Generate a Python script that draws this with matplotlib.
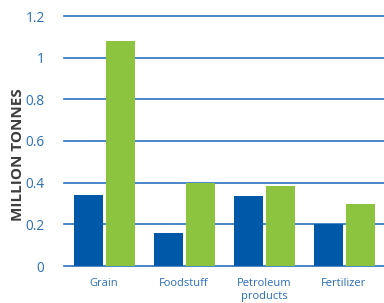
import numpy as np
import matplotlib.pyplot as plt

# Data
categories = ['Grain', 'Foodstuff', 'Petroleum\nproducts', 'Fertilizer']
series_blue = [0.34, 0.16, 0.337, 0.20]
series_green = [1.08, 0.40, 0.385, 0.30]
yticks = [0, 0.2, 0.4, 0.6, 0.8, 1.0, 1.2]
ytick_labels = ['0', '0.2', '0.4', '0.6', '0.8', '1', '1.2']

blue = '#0059a8'
green = '#8cc43f'
grid_blue = '#2a72bf'
text_blue = '#2a6fb8'

plt.rcParams['font.family'] = ['Open Sans', 'DejaVu Sans']

fig = plt.figure(figsize=(3.84, 3.03), dpi=100)
ax = fig.add_axes([64 / 384, 1 - 266 / 303, 1 - 64 / 384, 250 / 303])

x = np.arange(len(categories))
w = 29 / 80
gap = 3 / 80
ax.bar(x - (w + gap) / 2, series_blue, width=w, color=blue, zorder=3)
ax.bar(x + (w + gap) / 2, series_green, width=w, color=green, zorder=3)

ax.set_xlim(-0.5, len(categories) - 0.5)
ax.set_ylim(0, 1.2)
ax.set_yticks(yticks)
ax.set_yticklabels(ytick_labels)
for t in yticks:
    ax.axhline(t, color=grid_blue, lw=1.2, zorder=1, clip_on=False)

ax.set_xticks(x)
ax.set_xticklabels(categories, linespacing=1.25)
ax.tick_params(axis='x', length=0, pad=9, labelsize=8, labelcolor=text_blue)
ax.tick_params(axis='y', length=0, pad=14, labelsize=9.8, labelcolor=text_blue)
for s in ax.spines.values():
    s.set_visible(False)

fig.text(18 / 384, 1 - 155 / 303, 'MILLION TONNES', rotation=90, ha='center', va='center',
         fontsize=11, fontweight='bold', color='#3d3d3d')

fig.savefig('out.png', dpi=100)
